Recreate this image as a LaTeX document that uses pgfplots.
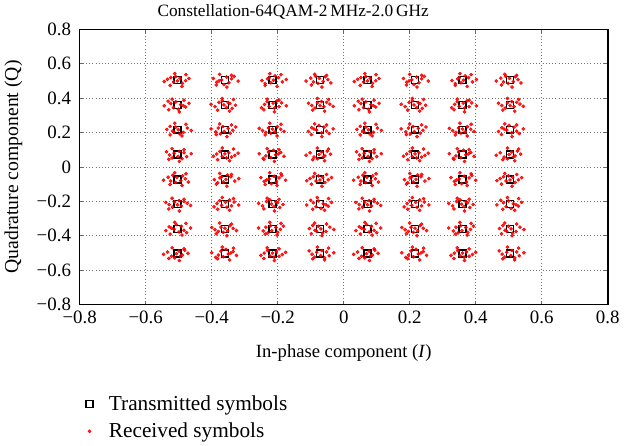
\documentclass[border=0pt]{standalone}
\usepackage{pgfplots}
\pgfplotsset{compat=1.18}
\usepackage{fontspec}
\setmainfont{Liberation Serif}

\begin{document}
\begin{tikzpicture}
\begin{axis}[
    scale only axis,
    width=397pt, height=207pt,
    xmin=-0.8, xmax=0.8, ymin=-0.8, ymax=0.8,
    xtick={-0.8,-0.6,...,0.8}, ytick={-0.8,-0.6,...,0.8},
    xticklabels={−0.8,−0.6,−0.4,−0.2,0,0.2,0.4,0.6,0.8},
    yticklabels={−0.8,−0.6,−0.4,−0.2,0,0.2,0.4,0.6,0.8},
    tick align=inside, major tick length=2.5pt,
    tick style={black!60, line width=0.5pt},
    axis line style={line width=1.1pt},
    grid=major, grid style={dotted, black!55, line width=0.6pt},
    ticklabel style={font=\fontsize{14.2}{17}\selectfont},
    xticklabel style={yshift=-1pt},
    yticklabel style={xshift=-3pt},
    title={Constellation-64QAM-2\,MHz-2.0\,GHz},
    title style={font=\fontsize{13}{15}\selectfont, yshift=-2pt, xshift=-38pt},
    xlabel={In-phase component (\textit{I})},
    ylabel={Quadrature component (Q)},
    xlabel style={font=\fontsize{14}{16}\selectfont, yshift=-9pt},
    ylabel style={font=\fontsize{14.8}{17}\selectfont, yshift=4pt},
    legend style={draw=none, fill=none, at={(0.004,-0.31)}, anchor=north west,
        font=\fontsize{16}{19}\selectfont, row sep=4pt,
        legend cell align=left},
]
% transmitted symbols
\addplot[only marks, mark=square, mark size=2.6pt, black, line width=1.1pt] coordinates {
(-0.504,0.504)(-0.360,0.504)(-0.216,0.504)(-0.072,0.504)(0.072,0.504)(0.216,0.504)(0.360,0.504)(0.504,0.504)
(-0.504,0.360)(-0.360,0.360)(-0.216,0.360)(-0.072,0.360)(0.072,0.360)(0.216,0.360)(0.360,0.360)(0.504,0.360)
(-0.504,0.216)(-0.360,0.216)(-0.216,0.216)(-0.072,0.216)(0.072,0.216)(0.216,0.216)(0.360,0.216)(0.504,0.216)
(-0.504,0.072)(-0.360,0.072)(-0.216,0.072)(-0.072,0.072)(0.072,0.072)(0.216,0.072)(0.360,0.072)(0.504,0.072)
(-0.504,-0.072)(-0.360,-0.072)(-0.216,-0.072)(-0.072,-0.072)(0.072,-0.072)(0.216,-0.072)(0.360,-0.072)(0.504,-0.072)
(-0.504,-0.216)(-0.360,-0.216)(-0.216,-0.216)(-0.072,-0.216)(0.072,-0.216)(0.216,-0.216)(0.360,-0.216)(0.504,-0.216)
(-0.504,-0.360)(-0.360,-0.360)(-0.216,-0.360)(-0.072,-0.360)(0.072,-0.360)(0.216,-0.360)(0.360,-0.360)(0.504,-0.360)
(-0.504,-0.504)(-0.360,-0.504)(-0.216,-0.504)(-0.072,-0.504)(0.072,-0.504)(0.216,-0.504)(0.360,-0.504)(0.504,-0.504)
};
\addlegendentry{\hspace{10pt}Transmitted symbols}
% received symbols
\addplot[only marks, mark=*, mark size=1.15pt, red, mark options={draw=none, fill=red, fill opacity=0.85}] coordinates {
(-0.534,0.509)(-0.516,0.494)(-0.496,0.516)(-0.479,0.501)(-0.509,0.524)(-0.489,0.486)(-0.544,0.496)(-0.469,0.514)(-0.504,0.500)(-0.524,0.519)
(-0.385,0.492)(-0.355,0.522)(-0.340,0.512)(-0.370,0.506)(-0.320,0.499)(-0.395,0.514)(-0.348,0.489)(-0.363,0.479)(-0.332,0.526)(-0.378,0.500)
(-0.231,0.512)(-0.186,0.494)(-0.221,0.489)(-0.198,0.519)(-0.248,0.502)(-0.208,0.529)(-0.238,0.484)(-0.174,0.508)(-0.213,0.504)(-0.226,0.518)
(-0.062,0.496)(-0.100,0.516)(-0.048,0.507)(-0.078,0.486)(-0.114,0.499)(-0.056,0.524)(-0.086,0.528)(-0.039,0.488)(-0.074,0.515)(-0.092,0.494)
(0.042,0.509)(0.060,0.494)(0.080,0.516)(0.097,0.501)(0.067,0.524)(0.087,0.486)(0.032,0.496)(0.107,0.514)(0.072,0.500)(0.052,0.519)
(0.191,0.492)(0.221,0.522)(0.236,0.512)(0.206,0.506)(0.256,0.499)(0.181,0.514)(0.228,0.489)(0.213,0.479)(0.244,0.526)(0.198,0.500)
(0.345,0.512)(0.390,0.494)(0.355,0.489)(0.378,0.519)(0.328,0.502)(0.368,0.529)(0.338,0.484)(0.402,0.508)(0.363,0.504)(0.350,0.518)
(0.514,0.496)(0.476,0.516)(0.528,0.507)(0.498,0.486)(0.462,0.499)(0.520,0.524)(0.490,0.528)(0.537,0.488)(0.502,0.515)(0.484,0.494)
(-0.479,0.348)(-0.509,0.378)(-0.524,0.368)(-0.494,0.362)(-0.544,0.355)(-0.469,0.370)(-0.516,0.345)(-0.501,0.335)(-0.532,0.382)(-0.486,0.356)
(-0.345,0.368)(-0.390,0.350)(-0.355,0.345)(-0.378,0.375)(-0.328,0.358)(-0.368,0.385)(-0.338,0.340)(-0.402,0.364)(-0.363,0.360)(-0.350,0.374)
(-0.226,0.352)(-0.188,0.372)(-0.240,0.363)(-0.210,0.342)(-0.174,0.355)(-0.232,0.380)(-0.202,0.384)(-0.249,0.344)(-0.214,0.371)(-0.196,0.350)
(-0.042,0.365)(-0.060,0.350)(-0.080,0.372)(-0.097,0.357)(-0.067,0.380)(-0.087,0.342)(-0.032,0.352)(-0.107,0.370)(-0.072,0.356)(-0.052,0.375)
(0.097,0.348)(0.067,0.378)(0.052,0.368)(0.082,0.362)(0.032,0.355)(0.107,0.370)(0.060,0.345)(0.075,0.335)(0.044,0.382)(0.090,0.356)
(0.231,0.368)(0.186,0.350)(0.221,0.345)(0.198,0.375)(0.248,0.358)(0.208,0.385)(0.238,0.340)(0.174,0.364)(0.213,0.360)(0.226,0.374)
(0.350,0.352)(0.388,0.372)(0.336,0.363)(0.366,0.342)(0.402,0.355)(0.344,0.380)(0.374,0.384)(0.327,0.344)(0.362,0.371)(0.380,0.350)
(0.534,0.365)(0.516,0.350)(0.496,0.372)(0.479,0.357)(0.509,0.380)(0.489,0.342)(0.544,0.352)(0.469,0.370)(0.504,0.356)(0.524,0.375)
(-0.519,0.208)(-0.474,0.226)(-0.509,0.231)(-0.486,0.201)(-0.536,0.218)(-0.496,0.191)(-0.526,0.236)(-0.462,0.212)(-0.501,0.216)(-0.514,0.202)
(-0.350,0.224)(-0.388,0.204)(-0.336,0.213)(-0.366,0.234)(-0.402,0.221)(-0.344,0.196)(-0.374,0.192)(-0.327,0.232)(-0.362,0.205)(-0.380,0.226)
(-0.246,0.211)(-0.228,0.226)(-0.208,0.204)(-0.191,0.219)(-0.221,0.196)(-0.201,0.234)(-0.256,0.224)(-0.181,0.206)(-0.216,0.220)(-0.236,0.201)
(-0.097,0.228)(-0.067,0.198)(-0.052,0.208)(-0.082,0.214)(-0.032,0.221)(-0.107,0.206)(-0.060,0.231)(-0.075,0.241)(-0.044,0.194)(-0.090,0.220)
(0.057,0.208)(0.102,0.226)(0.067,0.231)(0.090,0.201)(0.040,0.218)(0.080,0.191)(0.050,0.236)(0.114,0.212)(0.075,0.216)(0.062,0.202)
(0.226,0.224)(0.188,0.204)(0.240,0.213)(0.210,0.234)(0.174,0.221)(0.232,0.196)(0.202,0.192)(0.249,0.232)(0.214,0.205)(0.196,0.226)
(0.330,0.211)(0.348,0.226)(0.368,0.204)(0.385,0.219)(0.355,0.196)(0.375,0.234)(0.320,0.224)(0.395,0.206)(0.360,0.220)(0.340,0.201)
(0.479,0.228)(0.509,0.198)(0.524,0.208)(0.494,0.214)(0.544,0.221)(0.469,0.206)(0.516,0.231)(0.501,0.241)(0.532,0.194)(0.486,0.220)
(-0.514,0.080)(-0.476,0.060)(-0.528,0.069)(-0.498,0.090)(-0.462,0.077)(-0.520,0.052)(-0.490,0.048)(-0.537,0.088)(-0.502,0.061)(-0.484,0.082)
(-0.330,0.067)(-0.348,0.082)(-0.368,0.060)(-0.385,0.075)(-0.355,0.052)(-0.375,0.090)(-0.320,0.080)(-0.395,0.062)(-0.360,0.076)(-0.340,0.057)
(-0.191,0.084)(-0.221,0.054)(-0.236,0.064)(-0.206,0.070)(-0.256,0.077)(-0.181,0.062)(-0.228,0.087)(-0.213,0.097)(-0.244,0.050)(-0.198,0.076)
(-0.057,0.064)(-0.102,0.082)(-0.067,0.087)(-0.090,0.057)(-0.040,0.074)(-0.080,0.047)(-0.050,0.092)(-0.114,0.068)(-0.075,0.072)(-0.062,0.058)
(0.062,0.080)(0.100,0.060)(0.048,0.069)(0.078,0.090)(0.114,0.077)(0.056,0.052)(0.086,0.048)(0.039,0.088)(0.074,0.061)(0.092,0.082)
(0.246,0.067)(0.228,0.082)(0.208,0.060)(0.191,0.075)(0.221,0.052)(0.201,0.090)(0.256,0.080)(0.181,0.062)(0.216,0.076)(0.236,0.057)
(0.385,0.084)(0.355,0.054)(0.340,0.064)(0.370,0.070)(0.320,0.077)(0.395,0.062)(0.348,0.087)(0.363,0.097)(0.332,0.050)(0.378,0.076)
(0.519,0.064)(0.474,0.082)(0.509,0.087)(0.486,0.057)(0.536,0.074)(0.496,0.047)(0.526,0.092)(0.462,0.068)(0.501,0.072)(0.514,0.058)
(-0.494,-0.080)(-0.532,-0.060)(-0.480,-0.069)(-0.510,-0.090)(-0.546,-0.077)(-0.488,-0.052)(-0.518,-0.048)(-0.471,-0.088)(-0.506,-0.061)(-0.524,-0.082)
(-0.375,-0.064)(-0.330,-0.082)(-0.365,-0.087)(-0.342,-0.057)(-0.392,-0.074)(-0.352,-0.047)(-0.382,-0.092)(-0.318,-0.068)(-0.357,-0.072)(-0.370,-0.058)
(-0.241,-0.084)(-0.211,-0.054)(-0.196,-0.064)(-0.226,-0.070)(-0.176,-0.077)(-0.251,-0.062)(-0.204,-0.087)(-0.219,-0.097)(-0.188,-0.050)(-0.234,-0.076)
(-0.102,-0.067)(-0.084,-0.082)(-0.064,-0.060)(-0.047,-0.075)(-0.077,-0.052)(-0.057,-0.090)(-0.112,-0.080)(-0.037,-0.062)(-0.072,-0.076)(-0.092,-0.057)
(0.082,-0.080)(0.044,-0.060)(0.096,-0.069)(0.066,-0.090)(0.030,-0.077)(0.088,-0.052)(0.058,-0.048)(0.105,-0.088)(0.070,-0.061)(0.052,-0.082)
(0.201,-0.064)(0.246,-0.082)(0.211,-0.087)(0.234,-0.057)(0.184,-0.074)(0.224,-0.047)(0.194,-0.092)(0.258,-0.068)(0.219,-0.072)(0.206,-0.058)
(0.335,-0.084)(0.365,-0.054)(0.380,-0.064)(0.350,-0.070)(0.400,-0.077)(0.325,-0.062)(0.372,-0.087)(0.357,-0.097)(0.388,-0.050)(0.342,-0.076)
(0.474,-0.067)(0.492,-0.082)(0.512,-0.060)(0.529,-0.075)(0.499,-0.052)(0.519,-0.090)(0.464,-0.080)(0.539,-0.062)(0.504,-0.076)(0.484,-0.057)
(-0.474,-0.211)(-0.492,-0.226)(-0.512,-0.204)(-0.529,-0.219)(-0.499,-0.196)(-0.519,-0.234)(-0.464,-0.224)(-0.539,-0.206)(-0.504,-0.220)(-0.484,-0.201)
(-0.370,-0.224)(-0.332,-0.204)(-0.384,-0.213)(-0.354,-0.234)(-0.318,-0.221)(-0.376,-0.196)(-0.346,-0.192)(-0.393,-0.232)(-0.358,-0.205)(-0.340,-0.226)
(-0.201,-0.208)(-0.246,-0.226)(-0.211,-0.231)(-0.234,-0.201)(-0.184,-0.218)(-0.224,-0.191)(-0.194,-0.236)(-0.258,-0.212)(-0.219,-0.216)(-0.206,-0.202)
(-0.047,-0.228)(-0.077,-0.198)(-0.092,-0.208)(-0.062,-0.214)(-0.112,-0.221)(-0.037,-0.206)(-0.084,-0.231)(-0.069,-0.241)(-0.100,-0.194)(-0.054,-0.220)
(0.102,-0.211)(0.084,-0.226)(0.064,-0.204)(0.047,-0.219)(0.077,-0.196)(0.057,-0.234)(0.112,-0.224)(0.037,-0.206)(0.072,-0.220)(0.092,-0.201)
(0.206,-0.224)(0.244,-0.204)(0.192,-0.213)(0.222,-0.234)(0.258,-0.221)(0.200,-0.196)(0.230,-0.192)(0.183,-0.232)(0.218,-0.205)(0.236,-0.226)
(0.375,-0.208)(0.330,-0.226)(0.365,-0.231)(0.342,-0.201)(0.392,-0.218)(0.352,-0.191)(0.382,-0.236)(0.318,-0.212)(0.357,-0.216)(0.370,-0.202)
(0.529,-0.228)(0.499,-0.198)(0.484,-0.208)(0.514,-0.214)(0.464,-0.221)(0.539,-0.206)(0.492,-0.231)(0.507,-0.241)(0.476,-0.194)(0.522,-0.220)
(-0.529,-0.348)(-0.499,-0.378)(-0.484,-0.368)(-0.514,-0.362)(-0.464,-0.355)(-0.539,-0.370)(-0.492,-0.345)(-0.507,-0.335)(-0.476,-0.382)(-0.522,-0.356)
(-0.390,-0.365)(-0.372,-0.350)(-0.352,-0.372)(-0.335,-0.357)(-0.365,-0.380)(-0.345,-0.342)(-0.400,-0.352)(-0.325,-0.370)(-0.360,-0.356)(-0.380,-0.375)
(-0.206,-0.352)(-0.244,-0.372)(-0.192,-0.363)(-0.222,-0.342)(-0.258,-0.355)(-0.200,-0.380)(-0.230,-0.384)(-0.183,-0.344)(-0.218,-0.371)(-0.236,-0.350)
(-0.087,-0.368)(-0.042,-0.350)(-0.077,-0.345)(-0.054,-0.375)(-0.104,-0.358)(-0.064,-0.385)(-0.094,-0.340)(-0.030,-0.364)(-0.069,-0.360)(-0.082,-0.374)
(0.047,-0.348)(0.077,-0.378)(0.092,-0.368)(0.062,-0.362)(0.112,-0.355)(0.037,-0.370)(0.084,-0.345)(0.069,-0.335)(0.100,-0.382)(0.054,-0.356)
(0.186,-0.365)(0.204,-0.350)(0.224,-0.372)(0.241,-0.357)(0.211,-0.380)(0.231,-0.342)(0.176,-0.352)(0.251,-0.370)(0.216,-0.356)(0.196,-0.375)
(0.370,-0.352)(0.332,-0.372)(0.384,-0.363)(0.354,-0.342)(0.318,-0.355)(0.376,-0.380)(0.346,-0.384)(0.393,-0.344)(0.358,-0.371)(0.340,-0.350)
(0.489,-0.368)(0.534,-0.350)(0.499,-0.345)(0.522,-0.375)(0.472,-0.358)(0.512,-0.385)(0.482,-0.340)(0.546,-0.364)(0.507,-0.360)(0.494,-0.374)
(-0.489,-0.512)(-0.534,-0.494)(-0.499,-0.489)(-0.522,-0.519)(-0.472,-0.502)(-0.512,-0.529)(-0.482,-0.484)(-0.546,-0.508)(-0.507,-0.504)(-0.494,-0.518)
(-0.335,-0.492)(-0.365,-0.522)(-0.380,-0.512)(-0.350,-0.506)(-0.400,-0.499)(-0.325,-0.514)(-0.372,-0.489)(-0.357,-0.479)(-0.388,-0.526)(-0.342,-0.500)
(-0.186,-0.509)(-0.204,-0.494)(-0.224,-0.516)(-0.241,-0.501)(-0.211,-0.524)(-0.231,-0.486)(-0.176,-0.496)(-0.251,-0.514)(-0.216,-0.500)(-0.196,-0.519)
(-0.082,-0.496)(-0.044,-0.516)(-0.096,-0.507)(-0.066,-0.486)(-0.030,-0.499)(-0.088,-0.524)(-0.058,-0.528)(-0.105,-0.488)(-0.070,-0.515)(-0.052,-0.494)
(0.087,-0.512)(0.042,-0.494)(0.077,-0.489)(0.054,-0.519)(0.104,-0.502)(0.064,-0.529)(0.094,-0.484)(0.030,-0.508)(0.069,-0.504)(0.082,-0.518)
(0.241,-0.492)(0.211,-0.522)(0.196,-0.512)(0.226,-0.506)(0.176,-0.499)(0.251,-0.514)(0.204,-0.489)(0.219,-0.479)(0.188,-0.526)(0.234,-0.500)
(0.390,-0.509)(0.372,-0.494)(0.352,-0.516)(0.335,-0.501)(0.365,-0.524)(0.345,-0.486)(0.400,-0.496)(0.325,-0.514)(0.360,-0.500)(0.380,-0.519)
(0.494,-0.496)(0.532,-0.516)(0.480,-0.507)(0.510,-0.486)(0.546,-0.499)(0.488,-0.524)(0.518,-0.528)(0.471,-0.488)(0.506,-0.515)(0.524,-0.494)
(-0.512,0.542)(-0.490,0.468)(-0.526,0.474)(-0.478,0.536)(-0.354,0.464)(-0.376,0.538)(-0.340,0.532)(-0.386,0.476)
(-0.224,0.542)(-0.202,0.468)(-0.238,0.474)(-0.190,0.536)(-0.066,0.464)(-0.088,0.538)(-0.052,0.532)(-0.098,0.476)
(0.064,0.542)(0.086,0.468)(0.050,0.474)(0.098,0.536)(0.222,0.464)(0.200,0.538)(0.236,0.532)(0.190,0.476)
(0.352,0.542)(0.374,0.468)(0.338,0.474)(0.386,0.536)(0.510,0.464)(0.488,0.538)(0.524,0.532)(0.478,0.476)
(-0.498,0.320)(-0.520,0.394)(-0.484,0.388)(-0.530,0.332)(-0.368,0.398)(-0.346,0.324)(-0.382,0.330)(-0.334,0.392)
(-0.210,0.320)(-0.232,0.394)(-0.196,0.388)(-0.242,0.332)(-0.080,0.398)(-0.058,0.324)(-0.094,0.330)(-0.046,0.392)
(0.078,0.320)(0.056,0.394)(0.092,0.388)(0.046,0.332)(0.208,0.398)(0.230,0.324)(0.194,0.330)(0.242,0.392)
(0.366,0.320)(0.344,0.394)(0.380,0.388)(0.334,0.332)(0.496,0.398)(0.518,0.324)(0.482,0.330)(0.530,0.392)
(-0.512,0.254)(-0.490,0.180)(-0.526,0.186)(-0.478,0.248)(-0.354,0.176)(-0.376,0.250)(-0.340,0.244)(-0.386,0.188)
(-0.224,0.254)(-0.202,0.180)(-0.238,0.186)(-0.190,0.248)(-0.066,0.176)(-0.088,0.250)(-0.052,0.244)(-0.098,0.188)
(0.064,0.254)(0.086,0.180)(0.050,0.186)(0.098,0.248)(0.222,0.176)(0.200,0.250)(0.236,0.244)(0.190,0.188)
(0.352,0.254)(0.374,0.180)(0.338,0.186)(0.386,0.248)(0.510,0.176)(0.488,0.250)(0.524,0.244)(0.478,0.188)
(-0.498,0.032)(-0.520,0.106)(-0.484,0.100)(-0.530,0.044)(-0.368,0.110)(-0.346,0.036)(-0.382,0.042)(-0.334,0.104)
(-0.210,0.032)(-0.232,0.106)(-0.196,0.100)(-0.242,0.044)(-0.080,0.110)(-0.058,0.036)(-0.094,0.042)(-0.046,0.104)
(0.078,0.032)(0.056,0.106)(0.092,0.100)(0.046,0.044)(0.208,0.110)(0.230,0.036)(0.194,0.042)(0.242,0.104)
(0.366,0.032)(0.344,0.106)(0.380,0.100)(0.334,0.044)(0.496,0.110)(0.518,0.036)(0.482,0.042)(0.530,0.104)
(-0.512,-0.034)(-0.490,-0.108)(-0.526,-0.102)(-0.478,-0.040)(-0.354,-0.112)(-0.376,-0.038)(-0.340,-0.044)(-0.386,-0.100)
(-0.224,-0.034)(-0.202,-0.108)(-0.238,-0.102)(-0.190,-0.040)(-0.066,-0.112)(-0.088,-0.038)(-0.052,-0.044)(-0.098,-0.100)
(0.064,-0.034)(0.086,-0.108)(0.050,-0.102)(0.098,-0.040)(0.222,-0.112)(0.200,-0.038)(0.236,-0.044)(0.190,-0.100)
(0.352,-0.034)(0.374,-0.108)(0.338,-0.102)(0.386,-0.040)(0.510,-0.112)(0.488,-0.038)(0.524,-0.044)(0.478,-0.100)
(-0.498,-0.256)(-0.520,-0.182)(-0.484,-0.188)(-0.530,-0.244)(-0.368,-0.178)(-0.346,-0.252)(-0.382,-0.246)(-0.334,-0.184)
(-0.210,-0.256)(-0.232,-0.182)(-0.196,-0.188)(-0.242,-0.244)(-0.080,-0.178)(-0.058,-0.252)(-0.094,-0.246)(-0.046,-0.184)
(0.078,-0.256)(0.056,-0.182)(0.092,-0.188)(0.046,-0.244)(0.208,-0.178)(0.230,-0.252)(0.194,-0.246)(0.242,-0.184)
(0.366,-0.256)(0.344,-0.182)(0.380,-0.188)(0.334,-0.244)(0.496,-0.178)(0.518,-0.252)(0.482,-0.246)(0.530,-0.184)
(-0.512,-0.322)(-0.490,-0.396)(-0.526,-0.390)(-0.478,-0.328)(-0.354,-0.400)(-0.376,-0.326)(-0.340,-0.332)(-0.386,-0.388)
(-0.224,-0.322)(-0.202,-0.396)(-0.238,-0.390)(-0.190,-0.328)(-0.066,-0.400)(-0.088,-0.326)(-0.052,-0.332)(-0.098,-0.388)
(0.064,-0.322)(0.086,-0.396)(0.050,-0.390)(0.098,-0.328)(0.222,-0.400)(0.200,-0.326)(0.236,-0.332)(0.190,-0.388)
(0.352,-0.322)(0.374,-0.396)(0.338,-0.390)(0.386,-0.328)(0.510,-0.400)(0.488,-0.326)(0.524,-0.332)(0.478,-0.388)
(-0.498,-0.544)(-0.520,-0.470)(-0.484,-0.476)(-0.530,-0.532)(-0.368,-0.466)(-0.346,-0.540)(-0.382,-0.534)(-0.334,-0.472)
(-0.210,-0.544)(-0.232,-0.470)(-0.196,-0.476)(-0.242,-0.532)(-0.080,-0.466)(-0.058,-0.540)(-0.094,-0.534)(-0.046,-0.472)
(0.078,-0.544)(0.056,-0.470)(0.092,-0.476)(0.046,-0.532)(0.208,-0.466)(0.230,-0.540)(0.194,-0.534)(0.242,-0.472)
(0.366,-0.544)(0.344,-0.470)(0.380,-0.476)(0.334,-0.532)(0.496,-0.466)(0.518,-0.540)(0.482,-0.534)(0.530,-0.472)
};
\addlegendentry{\hspace{10pt}Received symbols}
\end{axis}
\end{tikzpicture}
\end{document}
